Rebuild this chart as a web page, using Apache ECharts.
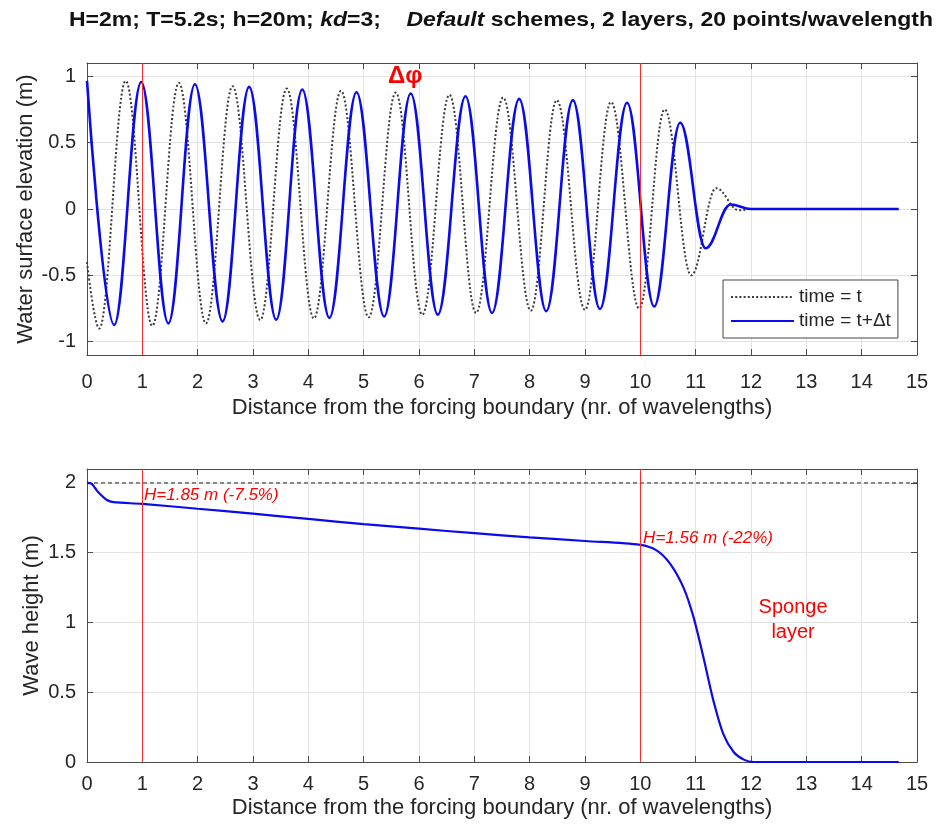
<!DOCTYPE html>
<html><head><meta charset="utf-8">
<script src="https://cdn.jsdelivr.net/npm/echarts@6/dist/echarts.min.js"></script>
<style>html,body{margin:0;padding:0;background:#fff}#c{width:938px;height:828px}</style>
</head><body><div id="c"></div>
<script>
// ---- data ----
const xTickLabels = ['0','1','2','3','4','5','6','7','8','9','10','11','12','13','14','15'];
const seriesNames = ['time = t', 'time = t+\u0394t'];
// surface elevation at time t (crests / troughs / calm water), x in wavelengths, y in m
const elevAtT = [
  [0,-0.40],[0.22,-0.90],[0.70,0.965],[1.18,-0.88],[1.66,0.95],[2.15,-0.862],[2.63,0.925],
  [3.13,-0.836],[3.61,0.907],[4.10,-0.824],[4.59,0.89],[5.09,-0.816],[5.58,0.877],[6.06,-0.796],
  [6.55,0.86],[7.03,-0.783],[7.52,0.84],[8.02,-0.766],[8.49,0.82],[9.00,-0.76],[9.47,0.806],
  [9.98,-0.75],[10.44,0.75],[10.92,-0.50],[11.37,0.157],[11.78,-0.01],[12.0,0],[13.0,0],[14.67,0]
];
// surface elevation at time t+dt
const elevAtTdt = [
  [0,0.965],[0.49,-0.874],[0.98,0.957],[1.47,-0.862],[1.95,0.94],[2.45,-0.847],[2.93,0.92],
  [3.42,-0.834],[3.89,0.90],[4.38,-0.82],[4.87,0.88],[5.37,-0.81],[5.85,0.87],[6.34,-0.796],
  [6.84,0.85],[7.32,-0.783],[7.81,0.83],[8.30,-0.77],[8.78,0.82],[9.27,-0.753],[9.76,0.80],
  [10.25,-0.735],[10.72,0.65],[11.18,-0.296],[11.63,0.034],[12.0,0],[13.0,0],[14.67,0]
];
// wave height along the flume
const waveHeight = [
  [0,2.0],[0.08,1.995],[0.2,1.935],[0.36,1.878],[0.48,1.862],[1.0,1.85],[2,1.815],[3,1.78],
  [4,1.742],[5,1.705],[6,1.672],[7,1.64],[8,1.61],[9,1.584],[10,1.556],[10.3,1.515],[10.54,1.42],
  [10.78,1.25],[10.96,1.04],[11.14,0.75],[11.32,0.44],[11.5,0.20],[11.69,0.07],[11.87,0.017],
  [12.05,0],[13,0],[14.67,0]
];
const targetHeight = [[0,2],[15,2]];
const markerX = [1, 10];
// ---------------------------------------

const FONT = "'Liberation Sans', Arial, Helvetica, sans-serif";
const AX = '#4a4a4a', TXT = '#262626', GRIDC = '#e3e3e3', RED = '#ff2a2a', BLUE = '#0a0aee';
const chart = echarts.init(document.getElementById('c'), null, {renderer: 'canvas'});

function xAx(grid, pos, labels, margin, gap) {
  return {
    type: 'value', gridIndex: grid, position: pos, min: 0, max: 15, interval: 1,
    axisLine: {show: true, onZero: false, lineStyle: {color: AX, width: 1}},
    axisTick: {show: true, inside: true, length: 6, lineStyle: {color: AX}},
    axisLabel: {show: labels, fontSize: 20, color: TXT, fontFamily: FONT, margin: margin || 12,
      formatter: v => xTickLabels[Math.round(v)] || ''},
    splitLine: {show: labels, lineStyle: {color: GRIDC, width: 1}},
    name: labels ? 'Distance from the forcing boundary (nr. of wavelengths)' : '',
    nameLocation: 'middle', nameGap: gap || 35,
    nameTextStyle: {fontSize: 22, color: TXT, fontFamily: FONT}
  };
}
function yAx(grid, pos, labels, min, max, interval, name, gap) {
  const a = {
    type: 'value', gridIndex: grid, position: pos, min: min, max: max,
    axisLine: {show: true, onZero: false, lineStyle: {color: AX, width: 1}},
    axisTick: {show: true, inside: true, length: 6, lineStyle: {color: AX}},
    axisLabel: {show: labels, fontSize: 20, color: TXT, fontFamily: FONT, margin: 11,
      showMinLabel: min === 0, showMaxLabel: false},
    splitLine: {show: labels, lineStyle: {color: GRIDC, width: 1}},
    name: labels ? name : '', nameLocation: 'middle', nameGap: gap, nameMoveOverlap: false,
    nameTextStyle: {fontSize: 22, color: TXT, fontFamily: FONT}
  };
  if (interval) a.interval = interval; else a.splitNumber = 5;
  return a;
}
const redLines = {
  silent: true, symbol: 'none', label: {show: false},
  lineStyle: {color: RED, width: 1, type: 'solid'},
  data: markerX.map(v => ({xAxis: v}))
};

chart.setOption({
  animation: false,
  backgroundColor: '#fff',
  textStyle: {fontFamily: FONT},
  grid: [
    {left: 87, top: 63, width: 830, height: 292, show: false},
    {left: 87, top: 469, width: 830, height: 293, show: false}
  ],
  xAxis: [xAx(0,'bottom',true,17,42), xAx(1,'bottom',true,12,35), xAx(0,'top',false), xAx(1,'top',false)],
  yAxis: [
    yAx(0,'left',true,-1.1,1.1,null,'Water surface elevation (m)',50),
    yAx(1,'left',true,0,2.1,0.5,'Wave height (m)',44),
    yAx(0,'right',false,-1.1,1.1,null,'',0),
    yAx(1,'right',false,0,2.1,0.5,'',0)
  ],
  legend: {
    left: 723, top: 280, orient: 'vertical', itemWidth: 63, itemHeight: 14, itemGap: 2,
    padding: [6, 7, 6, 7], borderColor: '#444', borderWidth: 1, backgroundColor: '#fff',
    itemStyle: {color: 'rgba(0,0,0,0)', borderWidth: 0, opacity: 0},
    textStyle: {fontSize: 19, color: TXT, fontFamily: FONT, lineHeight: 22},
    data: seriesNames
  },
  series: [
    {name: seriesNames[0], type: 'line', xAxisIndex: 0, yAxisIndex: 0, data: elevAtT,
     smooth: 0.38, smoothMonotone: 'x', symbol: 'none', z: 2,
     lineStyle: {color: '#3a3a3a', width: 2, type: [2, 2.2]}, itemStyle: {color: '#3a3a3a'}},
    {name: seriesNames[1], type: 'line', xAxisIndex: 0, yAxisIndex: 0, data: elevAtTdt,
     smooth: 0.38, smoothMonotone: 'x', symbol: 'none', z: 3,
     lineStyle: {color: BLUE, width: 2.6}, itemStyle: {color: BLUE}, markLine: redLines},
    {name: 'target', type: 'line', xAxisIndex: 1, yAxisIndex: 1, data: targetHeight,
     symbol: 'none', z: 2, lineStyle: {color: '#222', width: 1, type: [4, 3]}},
    {name: 'height', type: 'line', xAxisIndex: 1, yAxisIndex: 1, data: waveHeight,
     smooth: 0.3, symbol: 'none', z: 3, lineStyle: {color: BLUE, width: 2.2}, markLine: redLines}
  ]
});

function px(g, x, y) { return chart.convertToPixel({xAxisIndex: g, yAxisIndex: g}, [x, y]); }
const pDphi = px(0, 5.75, 1.0);
const pH1 = px(1, 1.03, 1.91);
const pH2 = px(1, 10.05, 1.60);
const pSp = px(1, 12.76, 1.02);
chart.setOption({
  graphic: [
    {type: 'text', x: 69, y: 20, scaleX: 1.095, z: 10, style: {
      text: '{b|H=2m; T=5.2s; h=20m; }{bi|kd}{b|=3;    }{bi|Default}{b| schemes, 2 layers, 20 points/wavelength}',
      align: 'left', verticalAlign: 'middle',
      rich: {
        b: {fontSize: 21, fontWeight: 'bold', fill: '#111', fontFamily: FONT},
        bi: {fontSize: 21, fontWeight: 'bold', fontStyle: 'italic', fill: '#111', fontFamily: FONT}
      }}},
    {type: 'text', x: pDphi[0], y: pDphi[1], z: 10, style: {text: '\u0394\u03c6', fill: '#ff0000',
      font: "bold 24px " + FONT, align: 'center', verticalAlign: 'middle'}},
    {type: 'text', x: pH1[0], y: pH1[1], z: 10, style: {text: 'H=1.85 m (-7.5%)', fill: '#ff0000',
      font: "italic 17px " + FONT, align: 'left', verticalAlign: 'middle'}},
    {type: 'text', x: pH2[0], y: pH2[1], z: 10, style: {text: 'H=1.56 m (-22%)', fill: '#ff0000',
      font: "italic 17px " + FONT, align: 'left', verticalAlign: 'middle'}},
    {type: 'text', x: pSp[0], y: pSp[1], z: 10, style: {text: 'Sponge\nlayer', fill: '#ff0000',
      font: "20px " + FONT, lineHeight: 25, align: 'center', verticalAlign: 'middle'}}
  ]
});
</script></body></html>
